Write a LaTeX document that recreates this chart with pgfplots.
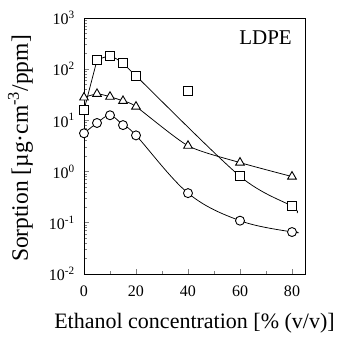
\documentclass[border=0pt]{standalone}
\usepackage{pgfplots}
\pgfplotsset{compat=1.18}
\usepackage{fontspec}
\setmainfont{Liberation Serif}
\begin{document}
\begin{tikzpicture}
\begin{axis}[
  scale only axis,
  width=221pt, height=256pt,
  ymode=log,
  xmin=0, xmax=85,
  ymin=1e-2, ymax=1e3,
  axis line style={line width=0.9pt},
  xtick={0,20,40,60,80},
  minor xtick={10,30,50,70},
  ytick={1e-2,1e-1,1e0,1e1,1e2,1e3},
  yticklabels={10\textsuperscript{-2},10\textsuperscript{-1},10\textsuperscript{0},10\textsuperscript{1},10\textsuperscript{2},10\textsuperscript{3}},
  tick align=inside,
  xtick pos=bottom, ytick pos=left,
  major tick length=5pt, minor tick length=3pt,
  tick style={line width=0.7pt},
  /pgf/number format/assume math mode=true,
  tick label style={font=\fontsize{16}{18}\selectfont},
  yticklabel style={anchor=east, inner sep=0pt, xshift=-9pt},
  xticklabel style={anchor=north, inner sep=0pt, yshift=-12pt},
  xlabel={Ethanol concentration [\% (v/v)]},
  ylabel={Sorption [µg·cm\textsuperscript{-3}/ppm]},
  xlabel style={font=\fontsize{22}{24}\selectfont, at={(axis description cs:0.5,-0.2148)}, anchor=base, inner sep=0pt},
  ylabel style={font=\fontsize{23.5}{25}\selectfont, at={(axis description cs:-0.2534,0.49)}, anchor=base, inner sep=0pt},
  clip=false,
]
% lines
\addplot[black, line width=0.75pt] coordinates {(0,15.9) (5,150)};
\addplot[black, line width=0.75pt, smooth, tension=0.5] coordinates {(5,150) (10,180) (15,130) (20,74) (60,0.81) (80,0.21) (82,0.155)};
\addplot[black, line width=0.75pt, smooth, tension=0.4] coordinates {(0,28) (5,33) (10,29) (15,24) (20,18.6) (40,3.2) (60,1.5) (80,0.8)};
\addplot[black, line width=0.75pt, smooth, tension=0.6] coordinates {(0,5.6) (5,8.9) (10,12.6) (15,8.1) (20,5.1) (40,0.38) (60,0.11) (80,0.066) (82,0.066)};
% markers
\addplot[only marks, mark=square*, mark size=4.5pt, mark options={fill=white, draw=black, line width=0.9pt}] coordinates {(0,15.9) (5,150) (10,180) (15,130) (20,74) (40,37) (60,0.81) (80,0.21)};
\addplot[only marks, mark=triangle*, mark size=5pt, mark options={fill=white, draw=black, line width=0.9pt}] coordinates {(0,28) (5,33) (10,29) (15,24) (20,18.6) (40,3.2) (60,1.5) (80,0.8)};
\addplot[only marks, mark=*, mark size=4.5pt, mark options={fill=white, draw=black, line width=0.9pt}] coordinates {(0,5.6) (5,8.9) (10,12.6) (15,8.1) (20,5.1) (40,0.38) (60,0.11) (80,0.066)};
\node[anchor=base east, inner sep=0pt, font=\fontsize{21}{23}\selectfont] at (rel axis cs:0.941,0.898) {LDPE};
\end{axis}
\pgfresetboundingbox
\path (current axis.south west) +(-84pt,-63pt) (current axis.north east) +(34pt,18pt);
\end{tikzpicture}
\end{document}
